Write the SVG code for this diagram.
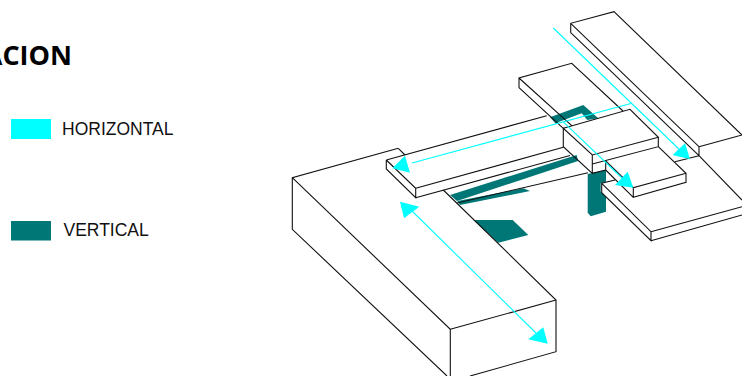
<svg xmlns="http://www.w3.org/2000/svg" width="742" height="376" viewBox="0 0 742 376">
<style>
.e{fill:none;stroke:#111;stroke-width:1.1}
.t{fill:#007777;stroke:none}
.c{fill:none;stroke:#00ffff;stroke-width:1.1}
.h{fill:#00ffff;stroke:none}
.l{font-family:"Liberation Sans",Arial,sans-serif;font-size:17.5px;fill:#111}
</style>
<rect width="742" height="376" fill="#fff"/>
<g id="title"><text x="72" y="65" text-anchor="end" font-family="'Open Sans',sans-serif" font-weight="700" font-size="27" fill="#000">ACION</text></g>
<g id="legend-horizontal"><rect class="h" x="11" y="119" width="40" height="20"/><text class="l" x="62" y="135">HORIZONTAL</text></g>
<g id="legend-vertical"><rect class="t" x="11" y="221" width="40" height="19.500"/><text class="l" x="63.500" y="236">VERTICAL</text></g>
<g id="vertical-elements">
<polygon class="t" points="550,117.300 583.300,105 598.300,118.300 587.300,120 581.700,113.300 559.300,121.700 556,124"/>
<polygon class="t" points="450,195 576.700,155 578,161 457,201"/>
<polygon class="t" points="457.300,201 523.300,188.300 530,191 460,205"/>
<polygon class="t" points="473.300,220 512.700,220 528.300,235 498.300,242.700"/>
<polygon class="t" points="587.700,174 606,170 606,181.700 600.700,183.300 600.700,191.700 606,196.700 606,211.700 590.700,216.300 587.700,212.700"/>
</g>
<g id="slab-top-right">
<path class="e" d="M570.700,32.700V23.300L614,11.700L742,135M570.700,23.300L699,146.700V155.700M699,146.700L742,135M570.700,32.700L699,155.700L742,200M699,155.700L675,161.700"/>
</g>
<g id="slab-upper-centre">
<path class="e" d="M519,87.700V78L571.700,63.300L623,111M519,78L572,125.800M519,87.700L563.300,128.300"/>
</g>
<g id="slab-lower-right">
<path class="e" d="M615,180L601.700,183.300V192.700L651,240.700V231.700L601.700,183.300M651,231.700L742,206.700M651,240.700L742,215"/>
</g>
<g id="beam">
<path class="e" d="M398.300,148.300L405,155M386.300,160L546.700,115.700M386.300,160V169L415.700,197.700V188.300L386.300,160M415.700,188.300L563.300,147.300M415.700,197.700L570,155.500M457,203L588,172.700"/>
</g>
<g id="block-centre">
<path class="e" d="M563.300,128.300L630,109.300L658.300,137.300L592.300,155L563.300,128.300V146.700L592.300,173.300L605.700,170V161M592.300,155V173.300M592.300,164L658.300,146.700V137.300M658.300,146.700L686,173.300V182.300L633.300,197.300V187.700L686,173.300M605.700,161L633.300,187.700M605.700,170L633.300,197.300"/>
</g>
<g id="block-l">
<path class="e" d="M398.300,148.300L292.300,177.700V229.300L447,376M292.300,177.700L450.300,329.300V376M443.300,190L556,300V351.700L470,376M450.300,329.300L556,300"/>
</g>
<g id="connectors">
<path class="c" d="M553.300,28L682,152M412,163L631.700,103.300M563,121.700L622,178M411,210L537,334"/>
<polygon class="h" points="690,159.300 685,143.300 672.700,155"/>
<polygon class="h" points="392.300,168.300 405,155.700 410,172.700"/>
<polygon class="h" points="633.300,187.700 627.700,171.700 615,185"/>
<polygon class="h" points="400,201.700 404,218.300 419.300,206.700"/>
<polygon class="h" points="547.700,343.700 543.300,327.300 528.300,339.300"/>
</g>
</svg>
